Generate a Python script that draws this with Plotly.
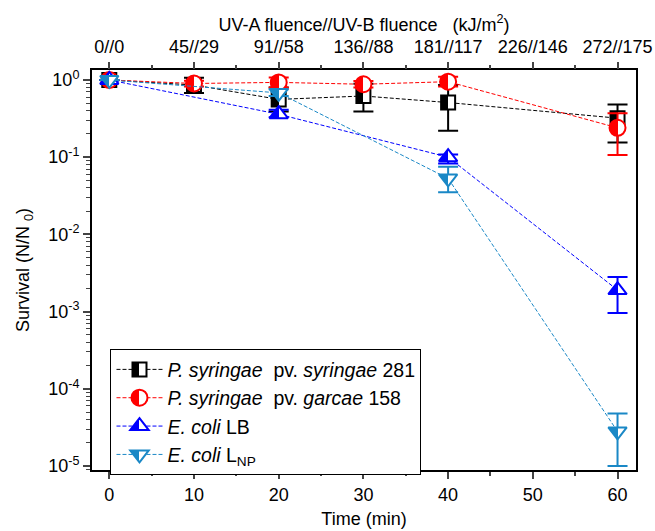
import plotly.graph_objects as go

# ---- data ----
time_ps = [0, 10, 20, 30, 40, 60]
time_ec = [0, 20, 40, 60]

pss_281 = [1.0, 0.86, 0.56, 0.62, 0.51, 0.32]
pss_281_hi = [None, 1.07, 0.80, 0.89, 0.86, 0.48]
pss_281_lo = [None, 0.68, 0.39, 0.39, 0.22, 0.155]

psg_158 = [1.0, 0.90, 0.93, 0.88, 0.95, 0.24]
psg_158_hi = [None, 0.98, 1.08, 0.97, 1.10, 0.37]
psg_158_lo = [None, 0.82, 0.80, 0.80, 0.82, 0.107]

ecoli_lb = [1.0, 0.36, 0.10, 0.0019]
ecoli_lb_hi = [None, 0.41, 0.108, 0.0028]
ecoli_lb_lo = [None, 0.33, 0.083, 0.00096]

ecoli_lnp = [1.0, 0.68, 0.053, 2.8e-5]
ecoli_lnp_hi = [None, 0.76, 0.075, 4.8e-5]
ecoli_lnp_lo = [None, 0.62, 0.035, 1.0e-5]

time_ticks = [0, 10, 20, 30, 40, 50, 60]
fluence_labels = ["0//0", "45//29", "91//58", "136//88", "181//117", "226//146", "272//175"]
y_tickvals = [1, 1e-1, 1e-2, 1e-3, 1e-4, 1e-5]
y_ticktext = ["10<sup>0</sup>", "10<sup>-1</sup>", "10<sup>-2</sup>", "10<sup>-3</sup>",
              "10<sup>-4</sup>", "10<sup>-5</sup>"]

FONT = "Arial, Liberation Sans, sans-serif"

series = [
    ("<i>P. syringae</i>&nbsp; pv. <i>syringae</i> 281", time_ps, pss_281, pss_281_hi, pss_281_lo,
     "#000000", "square", 14),
    ("<i>P. syringae</i>&nbsp; pv. <i>garcae</i> 158", time_ps, psg_158, psg_158_hi, psg_158_lo,
     "#ff0000", "circle", 16),
    ("<i>E. coli</i> LB", time_ec, ecoli_lb, ecoli_lb_hi, ecoli_lb_lo,
     "#0000ff", "triangle-up", 16),
    ("<i>E. coli</i> L<sub>NP</sub>", time_ec, ecoli_lnp, ecoli_lnp_hi, ecoli_lnp_lo,
     "#1a88c6", "triangle-down", 16),
]


def err_plus(hi, v):
    return [None if h is None else h - a for h, a in zip(hi, v)]


def err_minus(lo, v):
    return [None if l is None else a - l for l, a in zip(lo, v)]


fig = go.Figure()
for name, t, v, hi, lo, col, sym, size in series:
    fig.add_trace(go.Scatter(
        x=t, y=v, name=name, mode="lines+markers",
        line=dict(color=col, width=1, dash="4px,2px"),
        marker=dict(symbol=sym, size=size, color=col,
                    gradient=dict(type="horizontal", color="white"),
                    line=dict(color=col, width=2)),
        error_y=dict(type="data", symmetric=False,
                     array=err_plus(hi, v), arrayminus=err_minus(lo, v),
                     color=col, thickness=2, width=10),
    ))

# invisible trace so the top axis is drawn
fig.add_trace(go.Scatter(x=time_ps[:1], y=pss_281[:1], xaxis="x2", mode="markers",
                         marker=dict(opacity=0), showlegend=False, hoverinfo="skip"))

minor_y = [k * 10.0 ** e for e in range(-6, 1) for k in range(2, 10)]

fig.update_layout(
    width=655, height=531,
    margin=dict(l=91.5, r=19, t=69.5, b=61),
    paper_bgcolor="white", plot_bgcolor="white",
    font=dict(family=FONT, size=18, color="black"),
    showlegend=True,
    legend=dict(x=0.034, y=0.302, xanchor="left", yanchor="top",
                bordercolor="black", borderwidth=1, bgcolor="white",
                font=dict(family=FONT, size=19.5, color="black"),
                itemwidth=46, tracegroupgap=0),
    xaxis=dict(range=[-2.04, 62.18], tickvals=time_ticks, ticks="outside", ticklen=7,
               tickwidth=1.5, showline=True, linewidth=2, linecolor="black", mirror=True,
               showgrid=False, zeroline=False, automargin=False,
               minor=dict(dtick=5, tick0=0, ticks="outside", ticklen=4, tickwidth=1.5,
                          showgrid=False),
               title=dict(text="Time (min)", font=dict(size=18), standoff=9),
               tickfont=dict(size=18)),
    xaxis2=dict(overlaying="x", side="top", range=[-2.04, 62.18], tickvals=time_ticks,
                ticktext=fluence_labels, ticks="outside", ticklen=7, tickwidth=1.5,
                showline=False, showgrid=False, zeroline=False, automargin=False,
                ticklabelstandoff=2,
                minor=dict(dtick=5, tick0=0, ticks="outside", ticklen=4, tickwidth=1.5,
                           showgrid=False),
                title=dict(text="UV-A fluence//UV-B fluence&nbsp;&nbsp;&nbsp;(kJ/m<sup>2</sup>)",
                           font=dict(size=18), standoff=0),
                tickfont=dict(size=18)),
    yaxis=dict(type="log", range=[-5.052, 0.129], tickvals=y_tickvals, ticktext=y_ticktext,
               ticks="outside", ticklen=7, tickwidth=1.5, showline=True, linewidth=2,
               linecolor="black", mirror=True, showgrid=False, zeroline=False,
               automargin=False,
               minor=dict(tickvals=minor_y, ticks="outside", ticklen=4, tickwidth=1,
                          showgrid=False),
               title=dict(text="Survival (N/N <sub>0</sub>)", font=dict(size=18), standoff=14),
               tickfont=dict(size=18)),
)

# page without body margin; marker gradients turned into a hard half/half split
# (left half filled, right half white)
post = """
(function(){
  document.body.style.margin = '0';
  document.body.style.padding = '0';
  document.body.style.overflow = 'hidden';
  var gd = document.getElementById('{plot_id}');
  function fix(){
    var grads = gd.querySelectorAll('linearGradient');
    grads.forEach(function(g){
      var stops = g.querySelectorAll('stop');
      if (stops.length !== 2) return;
      var a = stops[0], b = stops[1];
      var a2 = a.cloneNode(true); a2.setAttribute('offset', '50%');
      var b2 = b.cloneNode(true); b2.setAttribute('offset', '50%');
      g.insertBefore(a2, b);
      g.insertBefore(b2, b);
    });
  }
  fix();
  if (gd && gd.on) { gd.on('plotly_afterplot', fix); }
  setTimeout(fix, 50);
  setTimeout(fix, 300);
})();
"""

fig.write_html("out.html", post_script=post, config={"displayModeBar": False})
